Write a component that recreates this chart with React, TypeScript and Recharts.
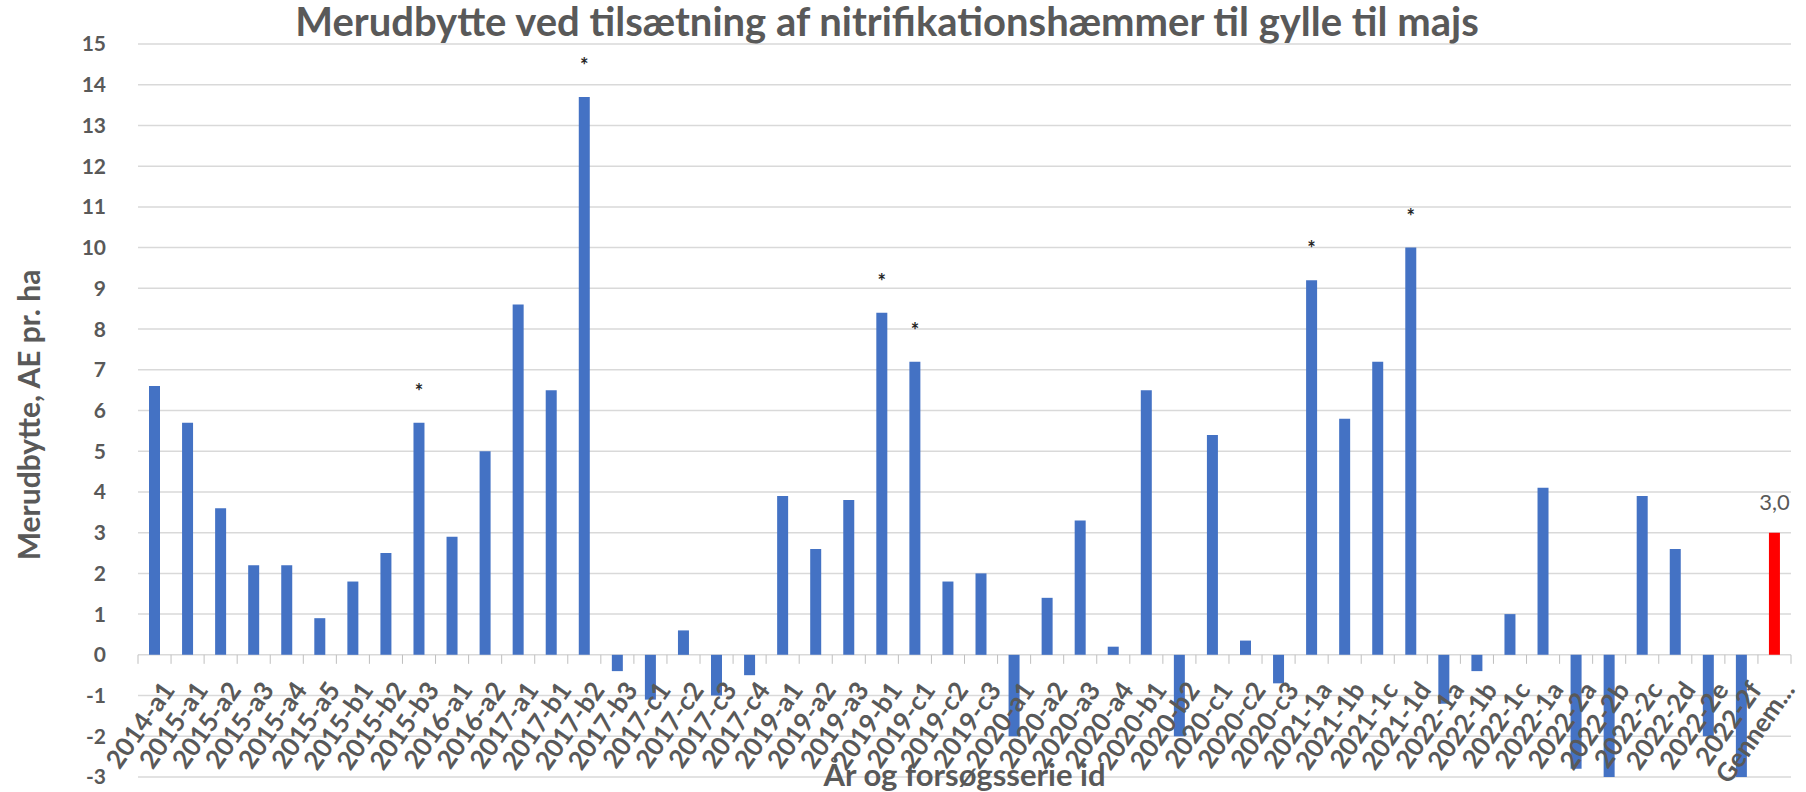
import { Bar, BarChart, CartesianGrid, Cell, LabelList, XAxis, YAxis } from 'recharts'

const categories = [
  '2014-a1', '2015-a1', '2015-a2', '2015-a3', '2015-a4', '2015-a5', '2015-b1', '2015-b2', '2015-b3',
  '2016-a1', '2016-a2', '2017-a1', '2017-b1', '2017-b2', '2017-b3', '2017-c1', '2017-c2', '2017-c3',
  '2017-c4', '2019-a1', '2019-a2', '2019-a3', '2019-b1', '2019-c1', '2019-c2', '2019-c3', '2020-a1',
  '2020-a2', '2020-a3', '2020-a4', '2020-b1', '2020-b2', '2020-c1', '2020-c2', '2020-c3', '2021-1a',
  '2021-1b', '2021-1c', '2021-1d', '2022-1a', '2022-1b', '2022-1c', '2022-1a', '2022-2a', '2022-2b',
  '2022-2c', '2022-2d', '2022-2e', '2022-2f', 'Gennem...',
]

// merudbytte, AE pr. ha
const values = [
  6.6, 5.7, 3.6, 2.2, 2.2, 0.9, 1.8, 2.5, 5.7,
  2.9, 5.0, 8.6, 6.5, 13.7, -0.4, -1.1, 0.6, -1.0,
  -0.5, 3.9, 2.6, 3.8, 8.4, 7.2, 1.8, 2.0, -2.0,
  1.4, 3.3, 0.2, 6.5, -2.0, 5.4, 0.35, -0.7, 9.2,
  5.8, 7.2, 10.0, -1.2, -0.4, 1.0, 4.1, -2.8, -3.0,
  3.9, 2.6, -2.0, -3.0, 3.0,
]

// trials marked with * (significant)
const significantTrials = ['2015-b3', '2017-b2', '2019-b1', '2019-c1', '2021-1a', '2021-1d']
const averageCategory = 'Gennem...'

const yTicks = [-3, -2, -1, 0, 1, 2, 3, 4, 5, 6, 7, 8, 9, 10, 11, 12, 13, 14, 15]

const data = categories.map((name, i) => ({
  name,
  value: values[i],
  mark: significantTrials.includes(name)
    ? '*'
    : name === averageCategory
      ? values[i].toFixed(1).replace('.', ',')
      : '',
}))

const W = 1806
const H = 792
const MARGIN = { top: 44, right: 15, left: 0, bottom: 0 }
const Y_AXIS_W = 138
const X_AXIS_H = 15
const PLOT_H = H - MARGIN.top - MARGIN.bottom - X_AXIS_H
const PLOT_W = W - MARGIN.left - MARGIN.right - Y_AXIS_W
const STEP = PLOT_W / categories.length
const Y_MIN = yTicks[0]
const Y_MAX = yTicks[yTicks.length - 1]
const ZERO_SHIFT = (PLOT_H * (0 - Y_MIN)) / (Y_MAX - Y_MIN)

const GREY = '#595959'
const FONT = 'Lato, "Open Sans", sans-serif'

function CategoryTick(props: any) {
  const { x, y, payload, index } = props
  const zeroY = y - ZERO_SHIFT
  const left = x - STEP / 2
  return (
    <g>
      <line x1={left} x2={left} y1={zeroY} y2={zeroY + 9} stroke="#BFBFBF" />
      {index === categories.length - 1 && (
        <line x1={left + STEP} x2={left + STEP} y1={zeroY} y2={zeroY + 9} stroke="#BFBFBF" />
      )}
      <text
        transform={`translate(${x + 14},${zeroY + 30}) rotate(-55)`}
        textAnchor="end"
        dy="0.35em"
        fill={GREY}
        fontSize={26}
        fontWeight="bold"
        fontFamily={FONT}
      >
        {payload.value}
      </text>
    </g>
  )
}

function MarkLabel(props: any) {
  const { x, y, width, value } = props
  if (!value) return null
  const cx = x + width / 2
  if (value === '*') {
    return (
      <text x={cx} y={y - 24} textAnchor="middle" fill="#262626" fontSize={20} fontWeight="bold" fontFamily={FONT}>
        *
      </text>
    )
  }
  return (
    <text x={cx} y={y - 23} textAnchor="middle" fill={GREY} fontSize={22} fontFamily={FONT}>
      {value}
    </text>
  )
}

export default function App() {
  return (
    <div style={{ position: 'absolute', left: 0, top: 0, width: W, height: H, background: '#fff', fontFamily: FONT }}>
      <BarChart width={W} height={H} data={data} margin={MARGIN}>
        <CartesianGrid vertical={false} stroke="#D9D9D9" strokeWidth={1.5} />
        <XAxis
          dataKey="name"
          height={X_AXIS_H}
          interval={0}
          axisLine={false}
          tickLine={false}
          tickSize={0}
          tickMargin={0}
          tick={<CategoryTick />}
        />
        <YAxis
          width={Y_AXIS_W}
          domain={[Y_MIN, Y_MAX]}
          ticks={yTicks}
          interval={0}
          axisLine={false}
          tickLine={false}
          tickSize={0}
          tickMargin={32}
          tick={{ fill: GREY, fontSize: 21, fontWeight: 'bold', fontFamily: FONT }}
        />
        <Bar dataKey="value" barSize={11} isAnimationActive={false}>
          {data.map((d) => (
            <Cell key={d.name + d.value} fill={d.name === averageCategory ? '#FF0000' : '#4472C4'} />
          ))}
          <LabelList dataKey="mark" content={<MarkLabel />} />
        </Bar>
      </BarChart>
      <div
        style={{
          position: 'absolute',
          left: 0,
          width: 1774,
          top: -3,
          textAlign: 'center',
          fontSize: 40,
          fontWeight: 'bold',
          color: GREY,
          whiteSpace: 'nowrap',
        }}
      >
        Merudbytte ved tilsætning af nitrifikationshæmmer til gylle til majs
      </div>
      <div
        style={{
          position: 'absolute',
          left: 28,
          top: 415,
          transform: 'translate(-50%, -50%) rotate(-90deg)',
          fontSize: 30,
          fontWeight: 'bold',
          color: GREY,
          whiteSpace: 'nowrap',
        }}
      >
        Merudbytte, AE pr. ha
      </div>
      <div
        style={{
          position: 'absolute',
          left: MARGIN.left + Y_AXIS_W + PLOT_W / 2,
          top: 755,
          transform: 'translateX(-50%)',
          fontSize: 31,
          fontWeight: 'bold',
          color: GREY,
          whiteSpace: 'nowrap',
        }}
      >
        År og forsøgsserie id
      </div>
    </div>
  )
}
